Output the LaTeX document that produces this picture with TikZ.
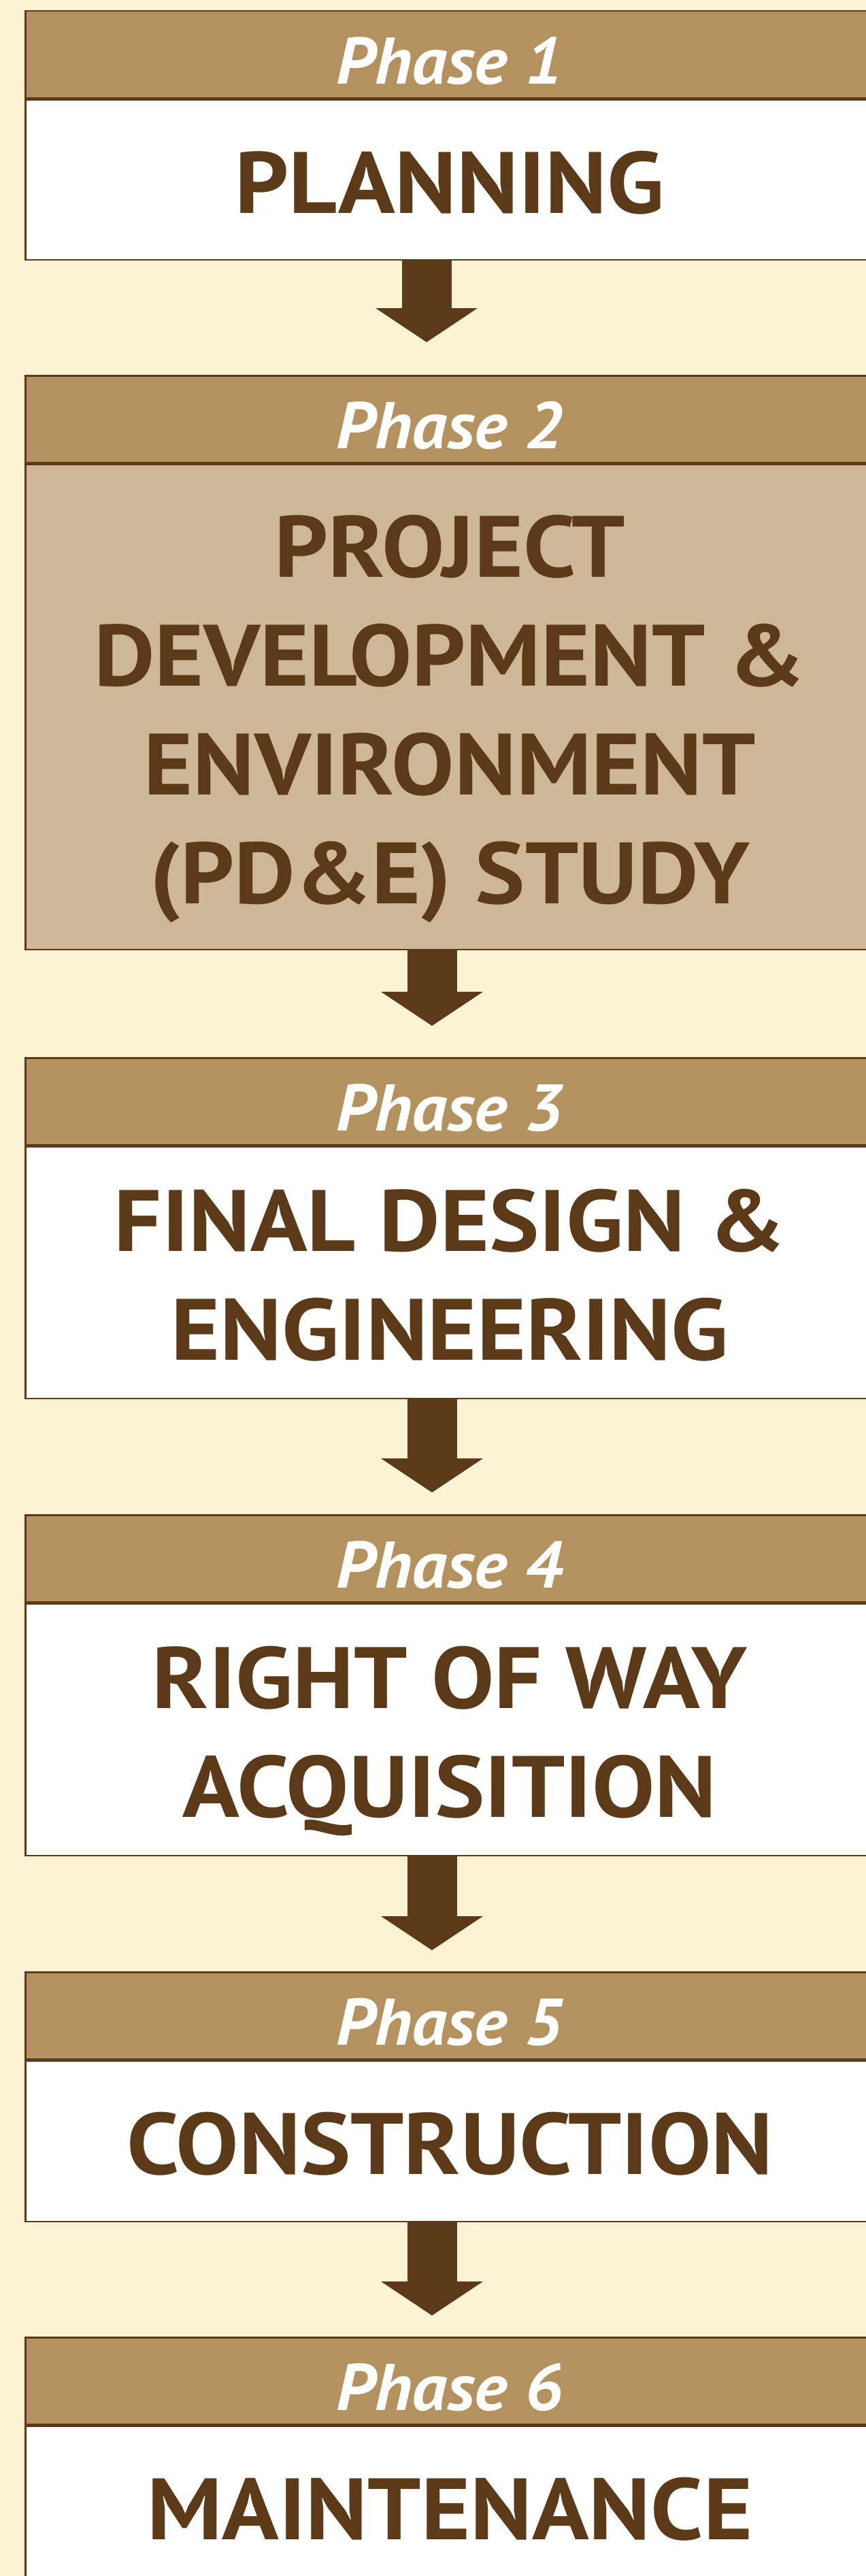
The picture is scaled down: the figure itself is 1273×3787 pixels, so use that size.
\documentclass[tikz,border=0pt]{standalone}
\usepackage{fontspec}
\setmainfont{PT Sans}
\newfontfamily\headfont{PT Sans}[FakeStretch=1.06]
\newfontfamily\bodyfont{PT Sans}[FakeStretch=1.08]
\usetikzlibrary{arrows.meta}

\definecolor{cream}{RGB}{251,243,212}
\definecolor{tan}{RGB}{179,146,96}
\definecolor{sand}{RGB}{206,183,151}
\definecolor{umber}{RGB}{92,57,25}

\begin{document}
\begin{tikzpicture}[x=1pt,y=-1pt]
	\tikzstyle{phasehead}=[draw=umber,line width=2.5pt,fill=tan,anchor=north west,
		minimum width=1248pt,minimum height=128pt,inner sep=0pt,
		text height=86pt,text depth=0pt,
		text=white,font=\headfont\fontsize{97}{110}\selectfont\bfseries\itshape]
	\tikzstyle{phasebody}=[draw=umber,line width=2.5pt,fill=white,anchor=north west,
		minimum width=1248pt,inner sep=0pt,align=center,
		text height=98pt,text depth=0pt,
		text=umber,font=\bodyfont\fontsize{128}{160}\selectfont\bfseries]
	\tikzstyle{flow}=[draw=umber,line width=73pt,
		-{Triangle[width=150pt,length=50pt,line width'=0pt]}]
	\path[use as bounding box,fill=cream] (0,0) rectangle (1273,3787);
	\coordinate (ax) at (635,0);
	% phase 1
	\node[phasehead] (head1) at (36,15) {Phase 1};
	\node[phasebody,minimum height=235pt] (body1) at (head1.south west) {PLANNING};
	% phase 2
	\node[phasehead] (head2) at (36,551) {Phase 2};
	\node[phasebody,fill=sand,minimum height=713pt,text height=578pt] (body2) at (head2.south west)
		{PROJECT\\DEVELOPMENT \&\\ENVIRONMENT\\(PD\&E) STUDY};
	% phase 3
	\node[phasehead] (head3) at (36,1554) {Phase 3};
	\node[phasebody,minimum height=370pt,text height=258pt] (body3) at (head3.south west)
		{FINAL DESIGN \&\\ENGINEERING};
	% phase 4
	\node[phasehead] (head4) at (36,2226) {Phase 4};
	\node[phasebody,minimum height=370pt,text height=258pt] (body4) at (head4.south west)
		{RIGHT OF WAY\\ACQUISITION};
	% phase 5
	\node[phasehead] (head5) at (36,2898) {Phase 5};
	\node[phasebody,minimum height=236pt] (body5) at (head5.south west) {CONSTRUCTION};
	% phase 6
	\node[phasehead] (head6) at (36,3435) {Phase 6};
	\node[phasebody,minimum height=235pt] (body6) at (head6.south west) {MAINTENANCE};
	% arrows
	\draw[flow,shorten >=48pt] ([xshift=-8pt]body1.south -| ax) -- ([xshift=-8pt]head2.north -| ax);
	\draw[flow,shorten >=46pt] (body2.south -| ax) -- (head3.north -| ax);
	\draw[flow,shorten >=32pt] (body3.south -| ax) -- (head4.north -| ax);
	\draw[flow,shorten >=31pt] (body4.south -| ax) -- (head5.north -| ax);
	\draw[flow,shorten >=31pt] (body5.south -| ax) -- (head6.north -| ax);
\end{tikzpicture}
\end{document}
